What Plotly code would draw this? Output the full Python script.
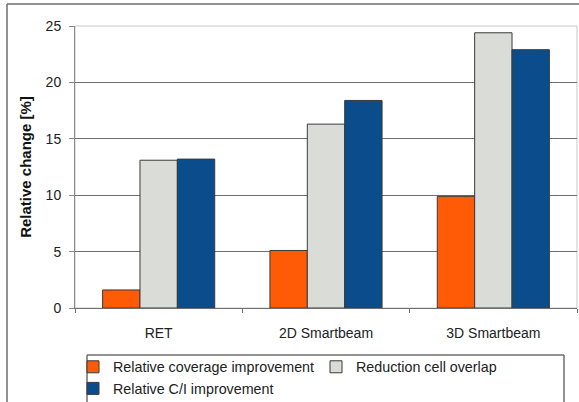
import plotly.graph_objects as go

# Antenna tilt schemes compared
categories = ["RET", "2D Smartbeam", "3D Smartbeam"]

# Relative change in percent per scheme
coverage_improvement = [1.6, 5.1, 9.9]
overlap_reduction = [13.1, 16.3, 24.4]
ci_improvement = [13.2, 18.4, 22.9]

series_names = [
    "Relative coverage improvement",
    "Reduction cell overlap",
    "Relative C/I improvement",
]
series_colors = ["#FF5A05", "#D9DCD7", "#0A4C8C"]
y_ticks = [0, 5, 10, 15, 20, 25]

fig = go.Figure()
for name, values, color in zip(series_names,
                               [coverage_improvement, overlap_reduction, ci_improvement],
                               series_colors):
    fig.add_trace(go.Bar(
        x=categories, y=values, name=name,
        marker=dict(color=color, line=dict(color="#3a3a3a", width=1)),
    ))

font_family = "Liberation Sans, Arial, sans-serif"

# plot area in pixels: x 75..577, y 26..308
def px_x(v):
    return (v - 75) / 502


def px_y(v):
    return (308 - v) / 282


def seg(x0, y0, x1, y1, color="#6e6e6e", width=1.5):
    return dict(type="line", xref="paper", yref="paper", layer="above",
                x0=px_x(x0), x1=px_x(x1), y0=px_y(y0), y1=px_y(y1),
                line=dict(color=color, width=width))


fig.update_layout(
    width=579, height=402,
    margin=dict(l=75, r=2, t=26, b=94),
    paper_bgcolor="white", plot_bgcolor="white",
    barmode="group", bargap=0.33, bargroupgap=0,
    font=dict(family=font_family, size=14, color="#222"),
    showlegend=True,
    legend=dict(
        orientation="h",
        xref="container", x=73 / 579, xanchor="left",
        yref="container", y=1 - 351 / 402, yanchor="top",
        borderwidth=0,
        bgcolor="rgba(0,0,0,0)",
        font=dict(family=font_family, size=14.3, color="#222"),
        entrywidth=198, entrywidthmode="pixels",
        itemwidth=30,
        tracegroupgap=0,
        traceorder="normal",
    ),
    xaxis=dict(
        showline=True, linecolor="#6f6f6f", linewidth=1,
        ticks="outside", tickson="boundaries", ticklen=4, tickcolor="#6f6f6f",
        ticklabelstandoff=12,
        showgrid=False,
        tickfont=dict(size=14, color="#222"),
    ),
    yaxis=dict(
        range=[0, 25], tickvals=y_ticks,
        showline=True, linecolor="#8a8a8a", linewidth=1,
        ticks="outside", ticklen=5, tickcolor="#8a8a8a",
        ticklabelstandoff=5,
        showgrid=True, gridcolor="#707070", gridwidth=1,
        zeroline=False,
        tickfont=dict(size=14, color="#222"),
        title=dict(text="<b>Relative change [%]</b>", standoff=10,
                   font=dict(size=15, color="#111")),
    ),
    shapes=[
        # light frame around the plotting area
        dict(type="rect", xref="paper", yref="paper", x0=0, x1=1, y0=0, y1=1,
             line=dict(color="#c8c8c8", width=1), layer="below"),
        # legend frame
        seg(87, 355, 564, 355),
        seg(87, 355, 87, 410),
        seg(564, 355, 564, 410),
        # outer chart border (top and left edges)
        seg(7, 4, 585, 4),
        seg(7, 4, 7, 412),
    ],
)

fig.write_html("out.html")
